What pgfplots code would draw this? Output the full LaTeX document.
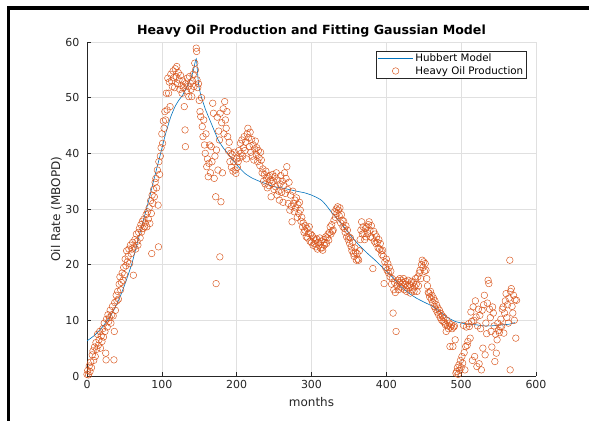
\documentclass[border=0pt]{standalone}
\usepackage{fontspec}
\setmainfont{DejaVu Sans}
\usepackage{pgfplots}
\pgfplotsset{compat=1.18}
\definecolor{mblue}{HTML}{0072BD}
\definecolor{morange}{HTML}{D95319}
\definecolor{tgray}{HTML}{262626}
\definecolor{ggray}{HTML}{E0E0E0}
\pgfplotsset{
  lineleg/.style={legend image code/.code={\draw[##1] (0pt,0pt) -- (35pt,0pt);}},
  markleg/.style={legend image code/.code={\draw[mark repeat=2,mark phase=2,##1] plot coordinates {(0pt,0pt) (17.5pt,0pt) (35pt,0pt)};}},
}
\begin{document}
\begin{tikzpicture}[x=1pt,y=1pt]
\fill[white] (0pt,0pt) rectangle (589pt,421pt);
\fill[black] (6.5pt,0pt) rectangle (10pt,414.5pt);
\fill[black] (6.5pt,411pt) rectangle (589pt,414.5pt);
\begin{axis}[
  at={(87pt,45pt)}, anchor=south west, scale only axis,
  width=449pt, height=334pt,
  xmin=0, xmax=600, ymin=0, ymax=60,
  xtick={0,100,...,600}, ytick={0,10,...,60},
  axis lines=left, axis line style={-, tgray, line width=0.6pt},
  tick align=inside, major tick length=4pt,
  tick style={tgray, line width=0.5pt},
  grid=major, grid style={ggray, line width=0.5pt},
  /pgf/number format/assume math mode=true,
  tick label style={font=\fontsize{11}{13}\selectfont, text=tgray},
  xticklabel style={yshift=-1pt},
  yticklabel style={xshift=-4pt},
  xlabel={months}, ylabel={Oil Rate (MBOPD)},
  label style={font=\fontsize{12}{14}\selectfont, text=tgray},
  xlabel style={yshift=-2pt},
  ylabel style={yshift=-3pt},
  title={Heavy Oil Production and Fitting Gaussian Model},
  title style={font=\fontsize{12.6}{15}\selectfont\bfseries, text=black, yshift=-5pt},
  legend style={at={(1,1)}, anchor=north east, xshift=-9pt, yshift=-8.7pt,
    font=\fontsize{10.3}{12}\selectfont, draw=tgray, line width=0.6pt,
    inner xsep=1.5pt, inner ysep=1pt, row sep=-1pt, cells={anchor=west}},
  legend cell align=left,
]
\addplot[mblue, line width=0.6pt, smooth, tension=0.3, lineleg] coordinates {
(0,6.3) (10,7.3) (20,8.7) (30,10.5) (38,12.4) (45,14.5) (52,17.0) (60,20.2)
(68,24.3) (75,27.8) (82,31.3) (90,35.6) (98,39.8) (105,43.5) (112,46.6)
(118,48.5) (123,49.6) (128,50.5) (133,51.8) (138,53.2) (142,54.8) (146,57.0)
(149,52.5) (152,50.5) (158,48.0) (166,45.4) (175,42.5) (182,41.0) (188,40.0)
(195,38.8) (203,37.5) (211,36.4) (220,35.6) (230,35.0) (240,34.5) (250,34.0)
(260,33.8) (270,33.5) (280,33.2) (291,32.9) (300,32.5) (308,32.0) (314,31.5)
(320,30.6) (328,29.2) (336,28.0) (345,26.5) (355,24.8) (365,23.3) (375,22.0)
(385,20.8) (395,19.5) (408,17.8) (420,16.0) (430,14.9) (440,14.0) (450,13.3)
(462,12.5) (472,11.5) (482,10.5) (492,9.8) (501,9.5) (510,9.3) (520,9.2)
(530,9.0) (539,9.0) (548,9.1) (556,9.2) (564,9.3) (572,9.6)
};
\addlegendentry{Hubbert Model}
\addplot[only marks, mark=o, mark size=3.3pt, morange, line width=0.45pt, markleg] coordinates {
(0,0.3) (1,1.0) (2,0.2) (3,1.8) (4,0.8) (5,2.5) (6,1.5) (7,3.8) (8,4.5) (9,2.8)
(10,5.2) (11,3.5) (12,6.0) (13,4.8) (14,7.5) (15,5.5) (16,6.5) (17,8.0) (18,5.0)
(19,7.2) (20,6.2) (21,8.5) (22,7.0) (23,9.5) (24,8.0) (25,4.1) (25.5,2.9) (26,10.2)
(27,8.8) (28,11.0) (29,9.8) (30,10.5) (31,11.8) (32,9.5) (33,11.0) (34,12.5)
(35,10.8) (36,2.9) (36.5,8.0) (37,13.2) (38,11.8) (39,14.5) (40,13.5)
(41,15.2) (42,13.8) (43,16.5) (44,17.8) (45,15.5) (46,16.8) (47,18.5) (48,17.2)
(49,19.5) (50,18.2) (51,21.0) (52,19.8) (53,22.5) (54,20.5) (55,21.5) (56,22.8)
(57,20.2) (58,23.5) (59,22.0) (60,22.8) (61,24.0) (62,18.1) (63,23.2) (64,24.5)
(65,22.8) (66,25.5) (67,24.2) (68,23.5) (69,25.8) (70,26.5) (71,24.8) (72,27.2)
(73,25.9) (74,27.8) (75,26.5) (76,28.2) (77,26.8) (78,27.5) (79,29.0) (80,26.8)
(81,29.5) (82,28.2) (83,30.2) (84,27.4) (85,31.5) (86,29.2) (86.5,22.0) (87,32.5)
(88,31.0) (89,33.5) (90,32.2) (91,34.8) (92,35.5) (93,33.8) (94,37.0) (95,30.7)
(95.5,23.2) (96,38.5) (97,36.2) (98,39.5) (99,41.0) (100,43.5) (101,41.8)
(102,45.8) (103,44.5) (104,47.5)
(105,46.0) (106,50.8) (107,47.8) (108,53.5) (109,50.8) (110,52.8) (111,48.4)
(112,54.2) (113,53.0) (114,52.0) (115,54.8) (116,53.6) (117,51.8) (118,55.2)
(119,53.8) (120,55.6) (121,52.5) (122,54.5) (123,53.2) (124,51.5) (125,54.0)
(126,52.2) (127,50.8) (128,53.0) (129,51.8) (130,48.4) (131,44.2) (131.5,41.2)
(132,52.5) (133,51.2) (134,53.5) (135,52.0) (136,50.2) (137,53.8) (138,52.6)
(139,51.5) (140,50.2) (141,53.0) (142,54.2) (143,52.0) (144,56.2) (145,55.0)
(146,58.9) (146.5,58.3) (147,53.2) (148,51.8) (149,52.5) (150,49.5)
(151,47.5) (152,46.6) (153,50.0) (154,44.8) (155,43.0) (156,46.0) (157,41.5)
(158,40.0) (159,43.5) (160,37.6) (161,39.0) (162,35.8) (163,38.2) (164,41.5)
(165,36.5) (166,41.2) (167,38.5) (168,49.0) (169,47.2) (170,35.5) (171,39.5)
(172,32.2) (172.5,16.6) (173,40.6) (174,46.5) (175,37.0) (176,44.0) (177,42.4)
(177.5,21.4) (178,47.2) (179,31.3) (180,45.5) (181,36.5) (182,48.0) (183,43.5)
(184,49.3) (185,46.0) (186,44.5) (187,47.5) (188,43.0) (189,40.5) (190,42.0)
(191,38.5) (192,40.0) (193,37.5) (194,39.8) (195,36.8) (196,38.5) (197,40.2)
(198,37.0) (199,36.4) (200,39.0)
(201,37.5) (202,38.5) (203,40.5) (204,39.2) (205,41.8) (206,40.0) (207,42.4)
(208,39.5) (209,41.0) (210,43.0) (211,40.5) (212,42.0) (213,39.0) (214,43.5)
(215,44.5) (216,42.8) (217,41.2) (218,43.8) (219,40.2) (220,42.5) (221,39.5)
(222,41.5) (223,38.8) (224,40.8) (225,42.2) (226,39.8) (227,41.0) (228,38.5)
(229,40.5) (230,39.2) (231,37.8) (232,40.2) (233,38.8) (234,36.5) (235,37.2)
(236,35.0) (237,36.2) (238,34.5) (239,36.8) (240,35.5) (241,33.8) (242,35.8)
(243,34.2) (244,36.0) (245,35.2) (246,32.2) (247,34.6) (248,36.2) (249,35.0)
(250,33.5)
(251,35.8) (252,34.0) (253,36.5) (254,32.5) (255,35.2) (256,33.2) (257,31.6)
(258,34.5) (259,36.0) (260,33.0) (261,35.0) (262,31.2) (263,34.2) (264,36.5)
(265,32.8) (266,35.5) (267,37.6) (268,33.5) (269,31.0) (270,34.8) (271,29.8)
(272,32.5) (273,30.5) (274,27.7) (275,33.2) (276,31.0) (277,29.5) (278,31.6)
(279,30.2) (280,32.0) (281,28.5) (282,30.8) (283,29.2) (284,31.2) (285,29.8)
(286,27.8) (287,28.5) (288,26.8) (289,27.5) (290,25.8) (291,26.2) (292,27.0)
(293,25.0) (294,26.5) (295,24.8) (296,25.6) (297,26.8) (298,24.2) (299,25.5)
(300,24.0) (301,25.2) (302,23.5) (303,24.8) (304,23.8) (305,24.4) (306,23.2)
(307,24.6) (308,22.8) (309,24.0) (310,23.5) (311,24.8) (312,23.0) (313,24.2)
(314,23.0) (315,22.6) (316,24.5) (317,23.5) (318,24.0) (319,25.0) (320,23.8)
(321,24.8) (322,25.5) (323,24.4) (324,25.8) (325,26.8) (326,25.5) (327,27.2)
(328,26.0) (329,26.2) (330,28.0)
(331,29.5) (332,28.5) (333,30.0) (334,29.2) (335,30.4) (336,29.8) (337,28.8)
(338,30.2) (339,27.5) (340,29.0) (341,28.0) (342,26.8) (343,27.8) (344,26.5)
(345,25.8) (346,27.0) (347,25.0) (348,26.2) (349,24.5) (350,25.0) (351,23.8)
(352,24.8) (353,23.2) (354,22.5) (355,24.0) (356,22.0) (357,21.5) (358,23.0)
(359,22.2) (360,20.8) (361,22.0) (362,21.0) (363,20.8) (364,22.5) (365,24.5)
(366,26.2) (367,27.7) (368,25.5) (369,26.8) (370,25.6) (371,24.5) (372,26.5)
(373,25.0) (374,26.8) (375,25.6) (376,27.2) (377,27.7) (378,26.2) (379,25.0)
(380,27.0) (381,24.8) (382,19.3) (383,26.0) (384,24.2) (385,25.5) (386,23.8)
(387,25.0) (388,24.0) (389,23.0) (390,24.5) (391,22.8) (392,23.8) (393,22.5)
(394,21.8) (395,22.6) (396,21.5) (397,16.6) (398,20.5) (399,19.5) (400,21.0)
(401,19.0) (402,20.2) (403,18.5) (404,19.5) (405,17.8) (406,18.8) (407,16.5)
(408,17.5) (409,11.3) (410,15.5) (411,16.8) (412,15.0) (413,8.0) (414,16.2)
(415,17.2) (416,15.5) (417,16.8) (418,17.5) (419,16.0) (420,17.2) (421,15.8)
(422,16.8) (423,17.5) (424,15.5) (425,16.5) (426,17.0) (427,15.2) (428,16.2)
(429,17.2) (430,15.8) (431,16.5) (432,14.9) (433,16.2) (434,17.0) (435,15.5)
(436,16.8) (437,15.2) (438,16.0) (439,17.5) (440,16.5) (441,15.2) (442,17.8)
(443,16.2) (444,18.5) (445,19.0) (446,17.5) (447,20.0) (448,20.8) (449,19.5)
(450,20.5) (451,18.8) (452,20.2) (453,19.0) (454,17.5) (455,16.2) (456,15.0)
(457,14.9) (458,14.2) (459,15.2) (460,13.8) (461,14.5) (462,13.2) (463,14.0)
(464,12.5) (465,13.5) (466,12.0) (467,12.8) (468,11.5) (469,12.2) (470,11.0)
(471,11.8) (472,10.5) (473,11.2) (474,10.0) (475,10.8) (476,9.8) (477,10.5)
(478,9.5) (479,9.2) (480,8.0) (481,10.0) (482,9.0) (483,8.5) (484,9.5) (485,5.3)
(486,8.8) (487,9.2) (488,8.5) (489,5.3) (490,8.8) (491,9.0) (492,6.5) (493,0.5)
(494,0.8) (495,1.5) (496,0.3) (497,2.0) (498,1.0) (499,2.8) (500,1.5)
(501,3.5) (502,2.3) (503,9.1) (504,4.2) (505,1.1) (506,5.3) (507,8.8) (508,5.5)
(509,6.2) (510,9.4) (511,8.9) (512,6.8) (513,11.5) (514,9.8) (515,2.8) (516,12.4)
(517,10.0) (518,3.5) (519,13.5) (520,10.6) (521,1.7) (522,9.0) (523,12.0)
(524,2.2) (525,10.9) (526,8.5) (527,1.1) (528,11.8) (529,5.0) (530,12.8)
(531,14.5) (532,3.8) (533,9.5) (534,7.6) (535,13.1) (536,17.2) (537,16.6)
(538,12.0) (539,10.5) (540,8.0) (541,5.2) (542,12.4) (543,11.3) (544,9.0)
(545,2.6) (546,7.5) (547,4.1) (548,6.5) (549,9.5) (550,8.2) (551,7.8) (552,8.8)
(553,10.2) (554,8.9) (555,12.0) (556,12.4) (557,7.7) (558,11.3) (559,13.5)
(560,14.8) (561,10.5) (562,12.8) (563,9.5) (564,14.0) (565,20.8) (565.5,1.1)
(566,15.2) (567,15.7) (568,12.5) (569,11.3) (570,14.5) (571,10.0) (572,13.7)
(573,6.8) (574,13.6)
};
\addlegendentry{Heavy Oil Production}
\end{axis}
\end{tikzpicture}
\end{document}
